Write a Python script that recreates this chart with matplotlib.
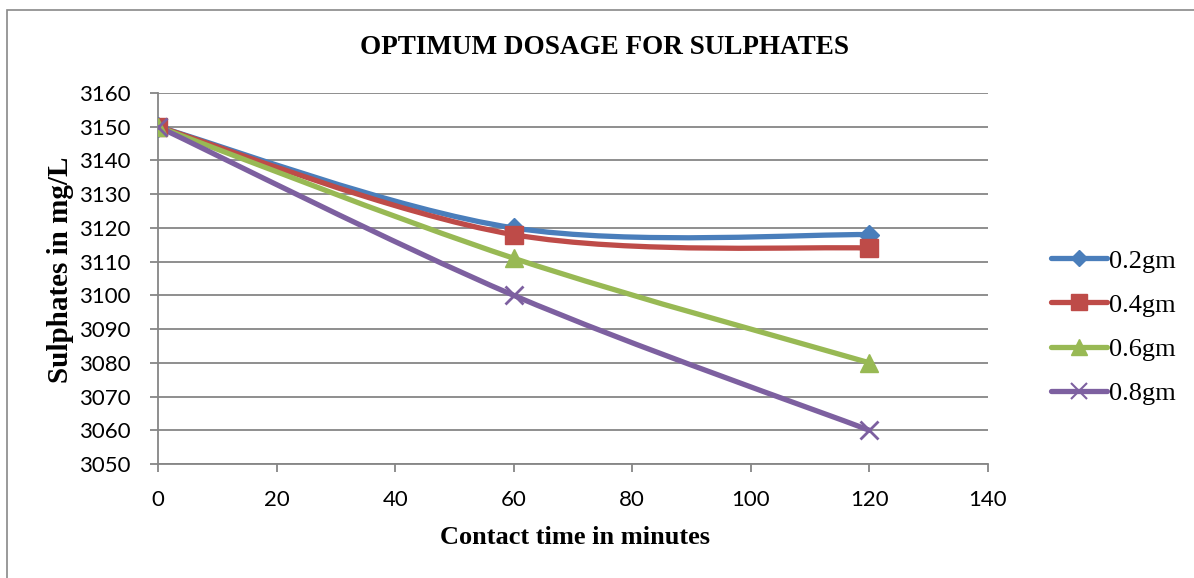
import numpy as np
import matplotlib.pyplot as plt
from matplotlib.path import Path
from matplotlib.patches import PathPatch, Rectangle
from matplotlib.lines import Line2D

time = [0, 60, 120]
s02 = [3150, 3120, 3118]
s04 = [3150, 3118, 3114]
s06 = [3150, 3111, 3080]
s08 = [3150, 3100, 3060]
labels = ["0.2gm", "0.4gm", "0.6gm", "0.8gm"]
colors = ["#4A7EBB", "#BE4B48", "#98B954", "#7D60A0"]
markers = ["D", "s", "^", "x"]
msizes = [10, 13, 13, 13]


def smooth_path(x, y):
    # excel style smoothed line: cubic bezier, catmull-rom control points
    p = np.column_stack([x, y]).astype(float)
    pp = np.vstack([p[0], p, p[-1]])
    verts = [p[0]]
    codes = [Path.MOVETO]
    for i in range(len(p) - 1):
        a, b, c, d = pp[i], pp[i + 1], pp[i + 2], pp[i + 3]
        verts += [b + (c - a) / 6, c - (d - b) / 6, c]
        codes += [Path.CURVE4] * 3
    return Path(verts, codes)


fig = plt.figure(figsize=(11.94, 5.78), dpi=100)
fig.patches.append(Rectangle((7 / 1194, -0.05), 1.2, (568 + 0.05 * 578) / 578,
                             transform=fig.transFigure, fill=False,
                             edgecolor="#898989", lw=1.2))
ax = fig.add_axes([158 / 1194, 114 / 578, 830 / 1194, 371 / 578])

for ys, c, m, ms, lab in zip([s02, s04, s06, s08], colors, markers, msizes, labels):
    ax.add_patch(PathPatch(smooth_path(time, ys), facecolor="none",
                           edgecolor=c, lw=3.8, capstyle="round", zorder=3))
    ax.plot(time, ys, linestyle="none", marker=m, color=c, ms=ms,
            mew=2 if m == "x" else 1, zorder=4)

ax.set_xlim(0, 140)
ax.set_ylim(3050, 3160)
ax.set_xticks(np.arange(0, 141, 20))
ax.set_yticks(np.arange(3050, 3161, 10))
ax.grid(axis="y", color="#868686", lw=1.3)
ax.set_axisbelow(True)
for s in ["top", "right"]:
    ax.spines[s].set_visible(False)
for s in ["left", "bottom"]:
    ax.spines[s].set_color("#868686")
    ax.spines[s].set_linewidth(1.3)
ax.tick_params(colors="#868686", width=1.3, length=6, labelcolor="black",
               labelsize=16)
ax.tick_params(axis="x", pad=13)
ax.tick_params(axis="y", pad=14)
for t in ax.get_xticklabels() + ax.get_yticklabels():
    t.set_fontfamily("Lato")

serif = "Liberation Serif"
fig.text(604 / 1194, 1 - 47 / 578, "OPTIMUM DOSAGE FOR SULPHATES",
         ha="center", va="center", fontsize=19.5, fontweight="bold", family=serif)
fig.text(575 / 1194, 1 - 538 / 578, "Contact time in minutes",
         ha="center", va="center", fontsize=19, fontweight="bold", family=serif)
fig.text(60 / 1194, 1 - 270 / 578, "Sulphates in mg/L", rotation=90,
         ha="center", va="center", fontsize=21, fontweight="bold", family=serif)

handles = [Line2D([], [], color=c, marker=m, ms=ms * 0.85, lw=3.8,
                  mew=1.5 if m == "x" else 1, solid_capstyle="round")
           for c, m, ms in zip(colors, markers, msizes)]
fig.legend(handles, labels, loc="center left", bbox_to_anchor=(1038 / 1194, 1 - 327 / 578),
           frameon=False, prop={"family": serif, "size": 19}, handlelength=2.1,
           handletextpad=0.1, labelspacing=0.78, borderpad=0)

fig.savefig("out.png", dpi=100)
